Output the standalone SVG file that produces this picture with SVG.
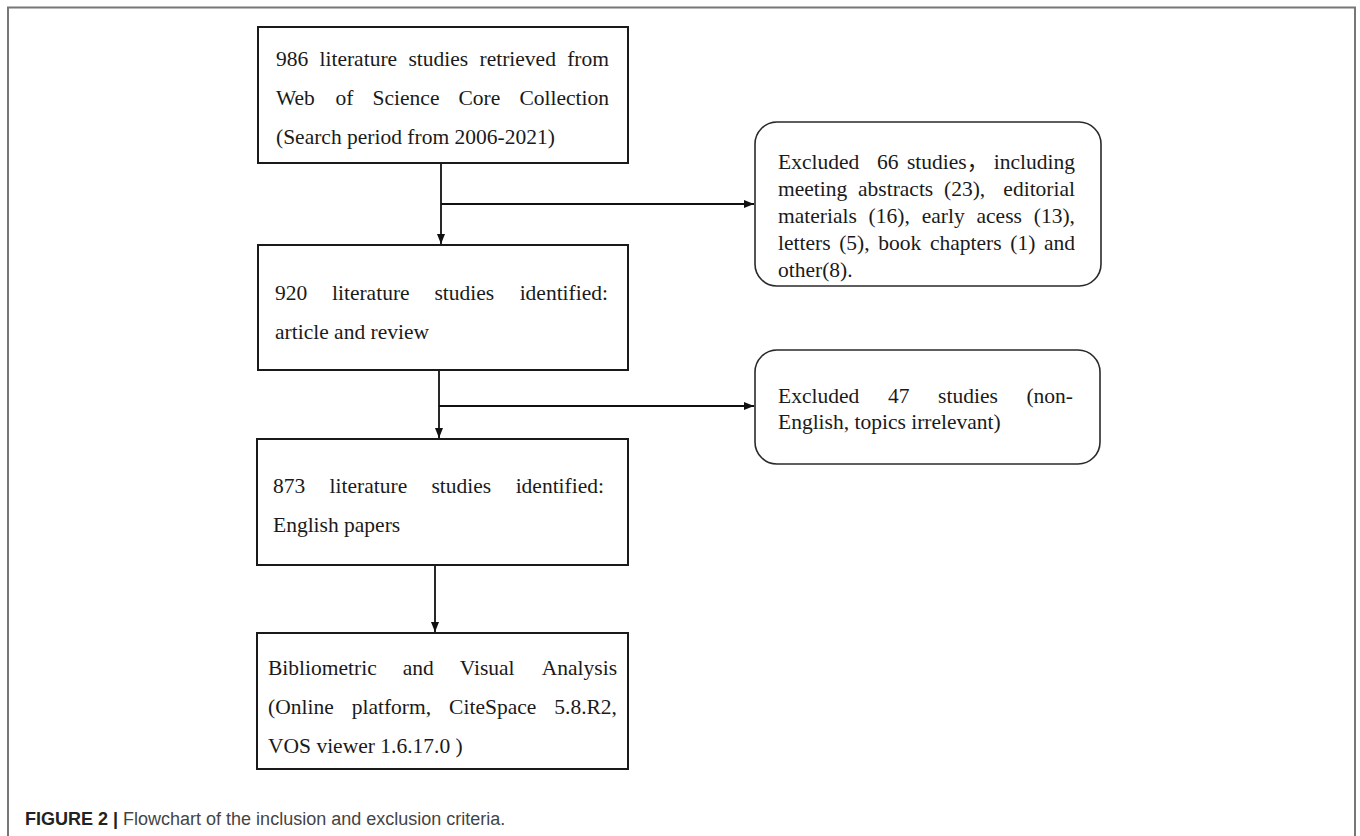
<svg xmlns="http://www.w3.org/2000/svg" width="1360" height="836" viewBox="0 0 1360 836">
<style>
.box{fill:#fff;stroke:#1a1a1a;stroke-width:2}
.rbox{fill:#fff;stroke:#2a2a2a;stroke-width:1.6}
.t{font-family:"Liberation Serif","Times New Roman","Noto Sans CJK SC",serif;font-size:21.5px;fill:#1a1a1a}
.e{text-anchor:end}
.conn{fill:none;stroke:#111;stroke-width:1.8}
.cap{font-family:"Liberation Sans",Arial,sans-serif;font-size:18px;fill:#444}
</style>
<defs>
<marker id="arr" markerUnits="userSpaceOnUse" markerWidth="10" markerHeight="10" viewBox="0 0 10 10" refX="10" refY="5" orient="auto">
<path d="M0,1 L10,5 L0,9 Z" fill="#111"/>
</marker>
</defs>
<rect width="1360" height="836" fill="#fff"/>
<path d="M8,845 V7.5 H1355 V845" fill="none" stroke="#777" stroke-width="2"/>

<g id="connectors">
<path class="conn" d="M441,163 V244" marker-end="url(#arr)"/>
<path class="conn" d="M441,204 H754" marker-end="url(#arr)"/>
<path class="conn" d="M439,370 V438" marker-end="url(#arr)"/>
<path class="conn" d="M439,406 H754" marker-end="url(#arr)"/>
<path class="conn" d="M435,565 V632" marker-end="url(#arr)"/>
</g>

<g id="node-retrieved">
<rect class="box" x="258" y="27" width="370" height="136"/>
<text class="t" y="66"><tspan x="276">986</tspan><tspan x="319.5">literature</tspan><tspan x="408.5">studies</tspan><tspan x="479.5">retrieved</tspan></text>
<text class="t e" x="609" y="66">from</text>
<text class="t" y="105"><tspan x="276">Web</tspan><tspan x="335.6">of</tspan><tspan x="372.6">Science</tspan><tspan x="458.5">Core</tspan></text>
<text class="t e" x="609" y="105">Collection</text>
<text class="t" x="276" y="144">(Search period from 2006-2021)</text>
</g>

<g id="node-excluded66">
<rect class="rbox" x="755" y="122" width="346" height="164" rx="22" ry="22"/>
<text class="t" y="169"><tspan x="778">Excluded</tspan><tspan x="877">66</tspan><tspan x="907">studies，</tspan></text>
<text class="t e" x="1075" y="169">including</text>
<text class="t" y="196"><tspan x="778">meeting</tspan><tspan x="858">abstracts</tspan><tspan x="944">(23),</tspan></text>
<text class="t e" x="1075" y="196">editorial</text>
<text class="t" y="223"><tspan x="778">materials</tspan><tspan x="868.6">(16),</tspan><tspan x="921.7">early</tspan><tspan x="976.5">acess</tspan></text>
<text class="t e" x="1075" y="223">(13),</text>
<text class="t" y="250"><tspan x="778">letters</tspan><tspan x="839.2">(5),</tspan><tspan x="878.3">book</tspan><tspan x="930">chapters</tspan><tspan x="1010.3">(1)</tspan></text>
<text class="t e" x="1075" y="250">and</text>
<text class="t" x="778" y="277">other(8).</text>
</g>

<g id="node-article-review">
<rect class="box" x="258" y="245" width="370" height="125"/>
<text class="t" y="300"><tspan x="275">920</tspan><tspan x="332">literature</tspan><tspan x="434.5">studies</tspan></text>
<text class="t e" x="608" y="300">identified:</text>
<text class="t" x="275" y="339">article and review</text>
</g>

<g id="node-excluded47">
<rect class="rbox" x="755" y="350" width="345" height="114" rx="22" ry="22"/>
<text class="t" y="403"><tspan x="778">Excluded</tspan><tspan x="887.9">47</tspan><tspan x="938.1">studies</tspan></text>
<text class="t e" x="1073" y="403">(non-</text>
<text class="t" x="778" y="429">English, topics irrelevant)</text>
</g>

<g id="node-english">
<rect class="box" x="257" y="439" width="371" height="126"/>
<text class="t" y="493"><tspan x="273">873</tspan><tspan x="329.6">literature</tspan><tspan x="431.5">studies</tspan></text>
<text class="t e" x="604" y="493">identified:</text>
<text class="t" x="273" y="532">English papers</text>
</g>

<g id="node-analysis">
<rect class="box" x="257" y="633" width="371" height="136"/>
<text class="t" y="675"><tspan x="268">Bibliometric</tspan><tspan x="402.7">and</tspan><tspan x="459.7">Visual</tspan></text>
<text class="t e" x="617" y="675">Analysis</text>
<text class="t" y="714"><tspan x="268">(Online</tspan><tspan x="351.7">platform,</tspan><tspan x="449.1">CiteSpace</tspan></text>
<text class="t e" x="617" y="714">5.8.R2,</text>
<text class="t" x="268" y="753">VOS viewer 1.6.17.0 )</text>
</g>

<text class="cap" x="25" y="825"><tspan font-weight="bold" fill="#222">FIGURE 2 |</tspan> Flowchart of the inclusion and exclusion criteria.</text>
</svg>
